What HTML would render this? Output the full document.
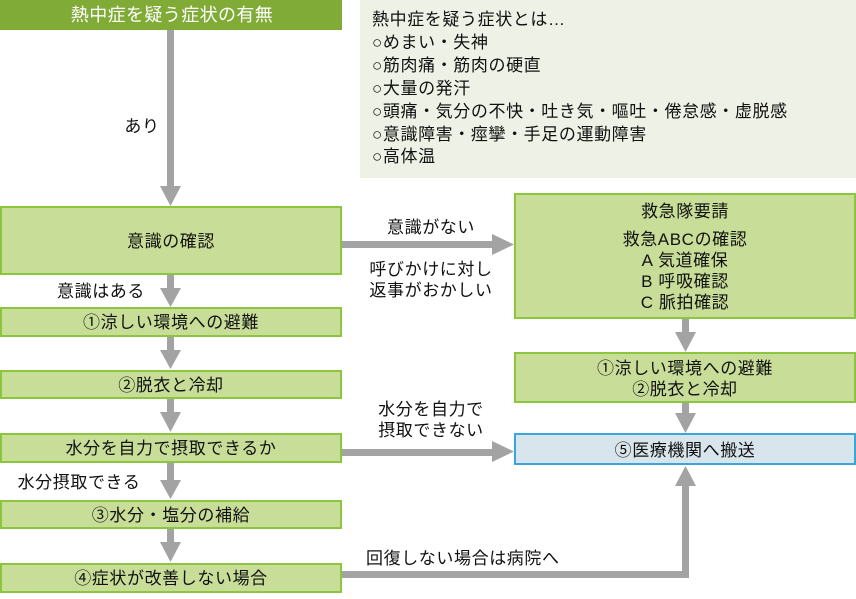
<!DOCTYPE html>
<html><head><meta charset="utf-8"><style>
html,body{margin:0;padding:0;background:#fff;}
svg text{font-family:"Liberation Sans","Noto Sans CJK JP",sans-serif;font-size:17px;letter-spacing:0.6px;fill:#111;}
</style></head><body>
<svg width="856" height="594" viewBox="0 0 856 594" xmlns="http://www.w3.org/2000/svg">
<g fill="#a3a3a3">
<rect x="167" y="30" width="7" height="158"/><polygon points="160,186 181,186 170.5,206"/>
<rect x="342" y="241" width="152" height="7"/><polygon points="492,234 492,255 514,244.5"/>
<rect x="167" y="274" width="7" height="16"/><polygon points="160,288 181,288 170.5,307"/>
<rect x="167" y="336" width="7" height="16"/><polygon points="160,350 181,350 170.5,369"/>
<rect x="167" y="398" width="7" height="16"/><polygon points="160,412 181,412 170.5,432"/>
<rect x="167" y="462" width="7" height="20"/><polygon points="160,480 181,480 170.5,499"/>
<rect x="167" y="528" width="7" height="16"/><polygon points="160,542 181,542 170.5,562"/>
<rect x="682" y="318" width="7" height="16"/><polygon points="675,332 696,332 685.5,352"/>
<rect x="682" y="402" width="7" height="14"/><polygon points="675,413 696,413 685.5,433"/>
<rect x="342" y="449" width="152" height="7"/><polygon points="492,441 492,462 514,451.5"/>
<rect x="342" y="571" width="347" height="7"/><rect x="682" y="484" width="7" height="94"/><polygon points="675,486 696,486 685.5,466"/>
</g>
<rect x="0" y="0" width="342" height="30" fill="#80ab37"/>
<text x="172" y="21" text-anchor="middle" style="fill:#fff;font-size:18px;letter-spacing:0.4px">熱中症を疑う症状の有無</text>
<rect x="360" y="0" width="496" height="178" fill="#eef2e6"/>
<g>
<text x="372" y="25">熱中症を疑う症状とは…</text>
<text x="372" y="48">○めまい・失神</text>
<text x="372" y="71">○筋肉痛・筋肉の硬直</text>
<text x="372" y="94">○大量の発汗</text>
<text x="372" y="117">○頭痛・気分の不快・吐き気・嘔吐・倦怠感・虚脱感</text>
<text x="372" y="140">○意識障害・痙攣・手足の運動障害</text>
<text x="372" y="162">○高体温</text>
</g>
<text x="142" y="132" text-anchor="middle">あり</text>
<g fill="#c8de98" stroke="#8cc63f" stroke-width="2">
<rect x="1" y="207" width="340" height="67"/>
<rect x="1" y="308" width="340" height="28"/>
<rect x="1" y="371" width="340" height="27"/>
<rect x="1" y="434" width="340" height="28"/>
<rect x="1" y="501" width="340" height="27"/>
<rect x="1" y="564" width="340" height="28"/>
<rect x="515" y="194" width="340" height="124"/>
<rect x="515" y="353" width="340" height="49"/>
</g>
<rect x="515" y="434" width="340" height="30" fill="#d9e5ec" stroke="#3aa7dc" stroke-width="2"/>
<text x="171" y="247" text-anchor="middle">意識の確認</text>
<text x="171" y="328" text-anchor="middle">①涼しい環境への避難</text>
<text x="171" y="391" text-anchor="middle">②脱衣と冷却</text>
<text x="171" y="454" text-anchor="middle">水分を自力で摂取できるか</text>
<text x="171" y="521" text-anchor="middle">③水分・塩分の補給</text>
<text x="171" y="584" text-anchor="middle">④症状が改善しない場合</text>
<text x="101" y="297" text-anchor="middle">意識はある</text>
<text x="79" y="488" text-anchor="middle">水分摂取できる</text>
<text x="431" y="233" text-anchor="middle">意識がない</text>
<text x="431" y="275" text-anchor="middle">呼びかけに対し</text>
<text x="431" y="296" text-anchor="middle">返事がおかしい</text>
<text x="431" y="415" text-anchor="middle">水分を自力で</text>
<text x="431" y="436" text-anchor="middle">摂取できない</text>
<text x="366" y="564">回復しない場合は病院へ</text>
<text x="685" y="217" text-anchor="middle">救急隊要請</text>
<text x="685" y="245" text-anchor="middle">救急ABCの確認</text>
<text x="685" y="266" text-anchor="middle">A 気道確保</text>
<text x="685" y="287" text-anchor="middle">B 呼吸確認</text>
<text x="685" y="308" text-anchor="middle">C 脈拍確認</text>
<text x="685" y="374" text-anchor="middle">①涼しい環境への避難</text>
<text x="685" y="395" text-anchor="middle">②脱衣と冷却</text>
<text x="685" y="456" text-anchor="middle">⑤医療機関へ搬送</text>
</svg>
</body></html>
